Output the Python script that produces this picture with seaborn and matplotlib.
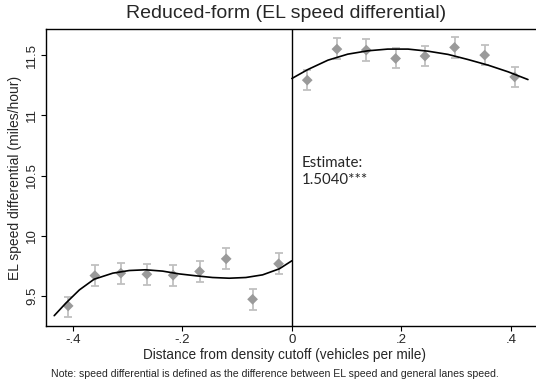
import numpy as np
import pandas as pd
import matplotlib
matplotlib.use("Agg")
import matplotlib.pyplot as plt
import seaborn as sns

# Binned means of the EL speed differential with 95% CI, by distance from cutoff
bin_x = [-0.4085, -0.3598, -0.3123, -0.2648, -0.2168, -0.1686, -0.1200, -0.0718, -0.0243,
         0.0280, 0.0822, 0.1358, 0.1894, 0.2430, 0.2970, 0.3520, 0.4067]
bin_mean = [9.417, 9.669, 9.689, 9.680, 9.672, 9.703, 9.808, 9.472, 9.767,
            11.292, 11.550, 11.542, 11.472, 11.492, 11.564, 11.500, 11.319]
ci_low = [9.328, 9.583, 9.600, 9.592, 9.583, 9.614, 9.722, 9.383, 9.681,
          11.208, 11.464, 11.450, 11.389, 11.408, 11.478, 11.417, 11.236]
ci_high = [9.494, 9.758, 9.772, 9.767, 9.758, 9.792, 9.894, 9.558, 9.856,
           11.375, 11.639, 11.633, 11.556, 11.578, 11.653, 11.583, 11.403]

# Fitted polynomial, left of the cutoff
fit_left_x = [-0.434, -0.413, -0.388, -0.361, -0.327, -0.297, -0.267, -0.236, -0.206,
              -0.175, -0.145, -0.1145, -0.084, -0.0535, -0.023, 0.0]
fit_left_y = [9.336, 9.439, 9.550, 9.639, 9.689, 9.711, 9.717, 9.706, 9.683,
              9.667, 9.653, 9.647, 9.653, 9.675, 9.725, 9.792]
# Fitted polynomial, right of the cutoff
fit_right_x = [0.0, 0.029, 0.0658, 0.102, 0.139, 0.175, 0.212, 0.248, 0.285,
               0.321, 0.358, 0.395, 0.431]
fit_right_y = [11.306, 11.380, 11.458, 11.508, 11.536, 11.550, 11.550, 11.533, 11.506,
               11.464, 11.417, 11.361, 11.297]

x_ticks = [-0.4, -0.2, 0.0, 0.2, 0.4]
x_tick_labels = ["-.4", "-.2", "0", ".2", ".4"]
y_ticks = [9.5, 10.0, 10.5, 11.0, 11.5]
y_tick_labels = ["9.5", "10", "10.5", "11", "11.5"]

title = "Reduced-form (EL speed differential)"
x_label = "Distance from density cutoff (vehicles per mile)"
y_label = "EL speed differential (miles/hour)"
note = "Note: speed differential is defined as the difference between EL speed and general lanes speed."
estimate_text = "Estimate:\n1.5040***"

sns.set_style("ticks")
plt.rcParams["font.family"] = ["Liberation Sans", "DejaVu Sans"]

bins = pd.DataFrame({"x": bin_x, "mean": bin_mean, "lo": ci_low, "hi": ci_high})
fit_left = pd.DataFrame({"x": fit_left_x, "y": fit_left_y})
fit_right = pd.DataFrame({"x": fit_right_x, "y": fit_right_y})

fig = plt.figure(figsize=(5.36, 3.85), dpi=100)
ax = fig.add_axes([0.0858, 0.1532, 0.9142, 0.7715])

# confidence intervals
ax.errorbar(bins["x"], bins["mean"],
            yerr=[bins["mean"] - bins["lo"], bins["hi"] - bins["mean"]],
            fmt="none", ecolor="#c0c0c0", elinewidth=1.3, capsize=3.0, capthick=1.3, zorder=2)
sns.scatterplot(data=bins, x="x", y="mean", marker="D", s=30, color="#9a9a9a",
                edgecolor="none", ax=ax, zorder=3)

sns.lineplot(data=fit_left, x="x", y="y", color="black", linewidth=1.2, ax=ax,
             estimator=None, sort=False, zorder=4)
sns.lineplot(data=fit_right, x="x", y="y", color="black", linewidth=1.2, ax=ax,
             estimator=None, sort=False, zorder=4)

ax.axvline(0, color="black", linewidth=1.0, zorder=1)

ax.set_xlim(-0.449, 0.4457)
ax.set_ylim(9.25, 11.717)
ax.set_xticks(x_ticks)
ax.set_xticklabels(x_tick_labels, fontsize=9.5)
ax.set_yticks(y_ticks)
ax.set_yticklabels(y_tick_labels, fontsize=9.5, rotation=90, va="center")
ax.tick_params(direction="out", length=3.5, width=0.8, color="black", pad=2)

for side in ["left", "top", "bottom"]:
    ax.spines[side].set_color("black")
    ax.spines[side].set_linewidth(1.0)
ax.spines["right"].set_visible(False)

ax.set_xlabel(x_label, fontsize=9.8, labelpad=2)
ax.xaxis.label.set_x(0.487)
ax.set_ylabel(y_label, fontsize=10.0, labelpad=3)

fig.text(0.534, 0.965, title, ha="center", va="center", fontsize=14)
fig.text(0.512, 0.028, note, ha="center", va="center", fontsize=7.6)

ax.text(0.018, 10.66, estimate_text, ha="left", va="top", fontsize=10.8,
        family=["Lato", "DejaVu Sans"], linespacing=1.25)

fig.savefig("out.png", dpi=100)
